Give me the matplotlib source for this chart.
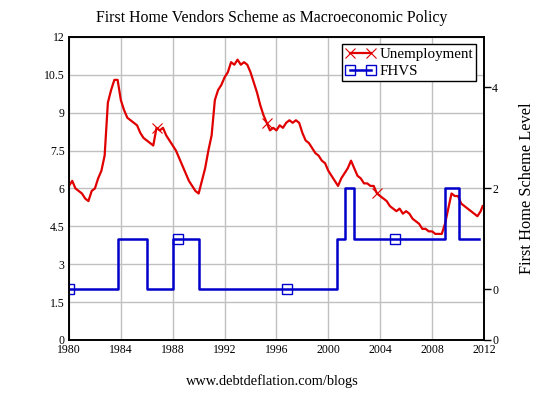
import matplotlib
matplotlib.use("Agg")
import matplotlib.pyplot as plt
import numpy as np

plt.rcParams['font.family'] = ['Liberation Serif', 'DejaVu Serif']

# unemployment rate, quarterly readings (%)
unemp_years = [1980 + 0.25 * i for i in range(128)] + [2011.9]
unemp = [6.1, 6.3, 6.0, 5.9, 5.8, 5.6, 5.5, 5.9,
         6.0, 6.4, 6.7, 7.3, 9.4, 9.9, 10.3, 10.3,
         9.5, 9.1, 8.8, 8.7, 8.6, 8.5, 8.2, 8.0,
         7.9, 7.8, 7.7, 8.4, 8.3, 8.4, 8.1, 7.9,
         7.7, 7.5, 7.2, 6.9, 6.6, 6.3, 6.1, 5.9,
         5.8, 6.3, 6.8, 7.5, 8.1, 9.5, 9.9, 10.1,
         10.4, 10.6, 11.0, 10.9, 11.1, 10.9, 11.0, 10.9,
         10.6, 10.2, 9.8, 9.3, 8.9, 8.6, 8.3, 8.4,
         8.3, 8.5, 8.4, 8.6, 8.7, 8.6, 8.7, 8.6,
         8.2, 7.9, 7.8, 7.6, 7.4, 7.3, 7.1, 7.0,
         6.7, 6.5, 6.3, 6.1, 6.4, 6.6, 6.8, 7.1,
         6.8, 6.5, 6.4, 6.2, 6.2, 6.1, 6.1, 5.8,
         5.7, 5.6, 5.5, 5.3, 5.2, 5.1, 5.2, 5.0,
         5.1, 5.0, 4.8, 4.7, 4.6, 4.4, 4.4, 4.3,
         4.3, 4.2, 4.2, 4.2, 4.6, 5.2, 5.8, 5.7,
         5.7, 5.4, 5.3, 5.2, 5.1, 5.0, 4.9, 5.1, 5.3]
unemp_marks = [27, 61, 95]

# first home vendors scheme level (step changes)
fhvs_years = [1980, 1983.8, 1986.0, 1988.0, 1990.05, 2000.67, 2001.3, 2002.0, 2009.0, 2010.1, 2011.6]
fhvs_level = [0, 1, 0, 1, 0, 1, 2, 1, 2, 1, 1]
fhvs_mark_years = [1980, 1988.4, 1996.8, 2005.15]

red = '#e00000'
blue = '#0000cc'

fig = plt.figure(figsize=(5.41, 3.93), dpi=100)
ax = fig.add_axes([0.1275, 0.135, 0.767, 0.771])
ax2 = ax.twinx()

l1, = ax.plot(unemp_years, unemp, color=red, lw=1.6, marker='x', ms=7,
              mew=0.8, markevery=unemp_marks, zorder=3)
ax.axhline(0, color=red, lw=0.8, ls='--', zorder=4)

l2, = ax2.plot(fhvs_years, fhvs_level, color=blue, lw=1.8, drawstyle='steps-post')
idx = np.searchsorted(fhvs_years, fhvs_mark_years, side='right') - 1
ax2.plot(fhvs_mark_years, np.array(fhvs_level)[idx], ls='none', marker='s', ms=7,
         mfc='none', mec=blue, mew=1.0)

ax.set_xlim(1980, 2012)
ax.set_ylim(0, 12)
ax2.set_ylim(-1, 5)
ax.set_xticks(range(1980, 2013, 4))
ax.set_yticks(np.arange(0, 12.1, 1.5))
ax.set_yticklabels(['0', '1.5', '3', '4.5', '6', '7.5', '9', '10.5', '12'])
ax2.set_yticks([-1, 0, 2, 4])
ax2.set_yticklabels(['0', '0', '2', '4'])

ax.grid(True, color='#c0c0c0', lw=1.0)
ax.set_axisbelow(True)
ax.tick_params(axis='both', length=0, labelsize=8.5, pad=3)
ax2.tick_params(axis='y', length=5, width=1, labelsize=8.5, pad=1)
for a in (ax, ax2):
    for s in a.spines.values():
        s.set_linewidth(1.2)
        s.set_color('black')

ax2.set_ylabel('First Home Scheme Level', fontsize=11.8, labelpad=15)

fhvs_handle = plt.Line2D([0, 1], [0, 0], color=blue, lw=1.8, marker='s', ms=7,
                         mfc='none', mec=blue)
leg = ax2.legend([l1, fhvs_handle], ['Unemployment', 'FHVS'], loc='upper right',
                 numpoints=2, fontsize=10.8, fancybox=False, edgecolor='black',
                 framealpha=1, borderpad=0.2, handlelength=2.0, handletextpad=0.3,
                 labelspacing=0.25, borderaxespad=0.5)
leg.get_frame().set_linewidth(1.0)

fig.text(0.503, 0.955, 'First Home Vendors Scheme as Macroeconomic Policy',
         ha='center', va='center', fontsize=11.4)
fig.text(0.503, 0.03, 'www.debtdeflation.com/blogs', ha='center', va='center', fontsize=10.4)

fig.savefig('out.png', dpi=100)
